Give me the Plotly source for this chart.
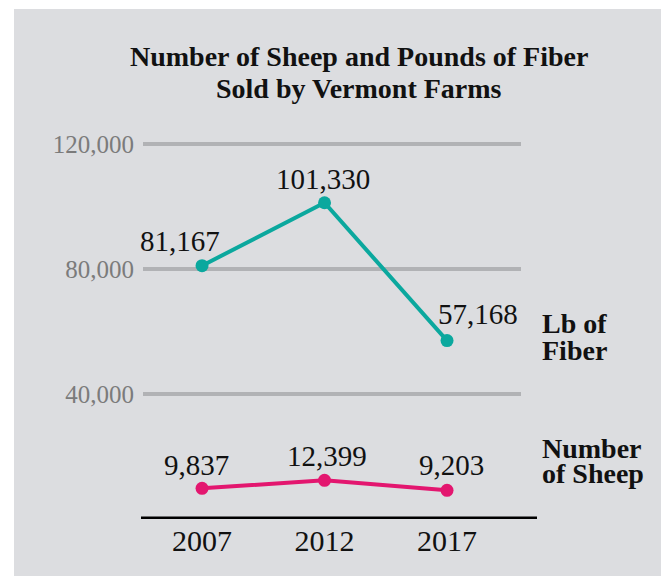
import plotly.graph_objects as go

years = [2007, 2012, 2017]
fiber_lb = [81167, 101330, 57168]
sheep = [9837, 12399, 9203]
y_ticks = [40000, 80000, 120000]
y_tick_labels = ["40,000", "80,000", "120,000"]
title_lines = ["Number of Sheep and Pounds of Fiber", "Sold by Vermont Farms"]
fiber_label = ["Lb of", "Fiber"]
sheep_label = ["Number", "of Sheep"]

OFF = 8  # page body margin
W, H = 669 - OFF, 576 - OFF
L, R, T, B = 143 - OFF, 148, 132 - OFF, 57
PW, PH = W - L - R, H - T - B

def px(x):
    return (x - OFF - L) / PW

def py(y):
    return (H - B - (y - OFF)) / PH

BG = "#dcdde0"
TEAL = "#0ba89e"
PINK = "#e3166f"
SERIF = "Liberation Serif, Times New Roman, serif"

fig = go.Figure()
fig.add_trace(go.Scatter(x=years, y=fiber_lb, mode="lines+markers",
                         line=dict(color=TEAL, width=4),
                         marker=dict(color=TEAL, size=13),
                         cliponaxis=False, hoverinfo="skip"))
fig.add_trace(go.Scatter(x=years, y=sheep, mode="lines+markers",
                         line=dict(color=PINK, width=4),
                         marker=dict(color=PINK, size=13),
                         cliponaxis=False, hoverinfo="skip"))

fiber_shift = [(-22, 25), (-2, 24), (31, 27)]
sheep_shift = [(-6, 23), (2, 24), (4, 25)]
ann = []
for xv, yv, (dx, dy) in zip(years, fiber_lb, fiber_shift):
    ann.append(dict(x=xv, y=yv, xref="x", yref="y", text=f"{yv:,}", showarrow=False,
                    xshift=dx, yshift=dy, font=dict(family=SERIF, size=29, color="#111")))
for xv, yv, (dx, dy) in zip(years, sheep, sheep_shift):
    ann.append(dict(x=xv, y=yv, xref="x", yref="y", text=f"{yv:,}", showarrow=False,
                    xshift=dx, yshift=dy, font=dict(family=SERIF, size=29, color="#111")))

def bold_text(text, x, y, anchor):
    return dict(x=px(x), y=py(y), xref="paper", yref="paper", text="<b>" + text + "</b>",
                showarrow=False, xanchor=anchor, yanchor="middle", align=anchor,
                font=dict(family=SERIF, size=28, color="#111"))

ann.append(bold_text(title_lines[0], 359, 56, "center"))
ann.append(bold_text(title_lines[1], 359, 89, "center"))
ann.append(bold_text(fiber_label[0], 540, 323, "left"))
ann.append(bold_text(fiber_label[1], 540, 350, "left"))
ann.append(bold_text(sheep_label[0], 540, 448, "left"))
ann.append(bold_text(sheep_label[1], 540, 473, "left"))

shapes = [
    dict(type="rect", xref="paper", yref="paper", x0=px(14), x1=px(669 + 2), y0=py(9), y1=py(576 + 2),
         fillcolor=BG, line=dict(width=0), layer="below"),
    dict(type="line", xref="paper", yref="y", x0=px(141), x1=px(537), y0=0, y1=0,
         line=dict(color="#000", width=5), layer="above"),
]

fig.update_layout(
    width=W, height=H,
    margin=dict(l=L, r=R, t=T, b=B, pad=0),
    paper_bgcolor="white", plot_bgcolor="rgba(0,0,0,0)",
    showlegend=False,
    annotations=ann, shapes=shapes,
    xaxis=dict(range=[2004.59, 2020.02], tickvals=years, ticktext=[str(y) for y in years],
               showgrid=False, zeroline=False, showline=False, ticks="",
               tickfont=dict(family=SERIF, size=30, color="#111"), ticklabelstandoff=1),
    yaxis=dict(range=[0, 124000], tickvals=y_ticks, ticktext=y_tick_labels,
               showgrid=True, gridcolor="#b1b2b5", gridwidth=4, zeroline=False, showline=False,
               ticks="", tickfont=dict(family=SERIF, size=25, color="#7b7b7b"), ticklabelstandoff=8),
)
fig.write_html("out.html")
